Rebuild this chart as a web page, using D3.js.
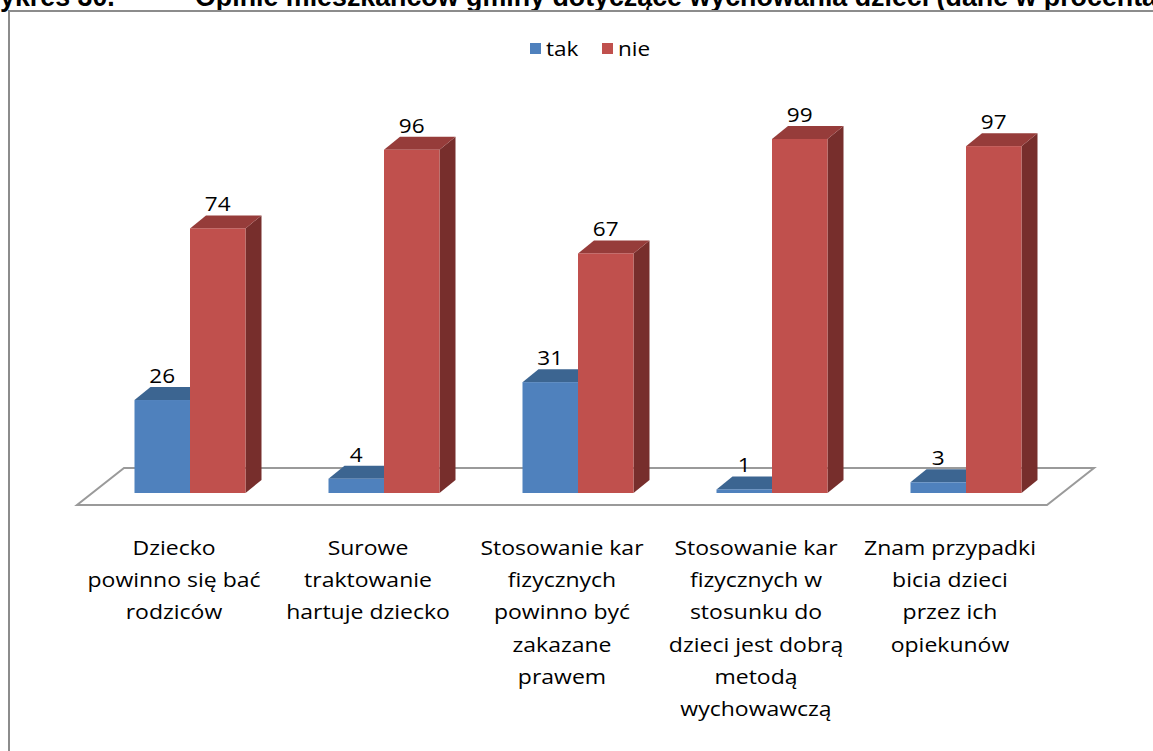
<!DOCTYPE html>
<html lang="pl">
<head>
<meta charset="UTF-8">
<title>Wykres 30</title>
<script src="https://d3js.org/d3.v7.min.js"></script>
<style>
  body { margin: 0; background: #fff; }
  svg { display: block; }
</style>
</head>
<body>
<div id="chart"></div>
<script>

// dane
const categories = [
    ['Dziecko', 'powinno się bać', 'rodziców'],
    ['Surowe', 'traktowanie', 'hartuje dziecko'],
    ['Stosowanie kar', 'fizycznych', 'powinno być', 'zakazane', 'prawem'],
    ['Stosowanie kar', 'fizycznych w', 'stosunku do', 'dzieci jest dobrą', 'metodą', 'wychowawczą'],
    ['Znam przypadki', 'bicia dzieci', 'przez ich', 'opiekunów']
]
const series = ['tak', 'nie']
const tak = [26, 4, 31, 1, 3]
const nie = [74, 96, 67, 99, 97]

const W = 1153, H = 751
const labelFont = '"Open Sans", "Noto Sans", sans-serif'
const titleFont = '"Liberation Sans", Arial, sans-serif'
const stretch = 1.15   // tekst w oryginale jest szerszy (Calibri)

let svg = d3.select('#chart')
    .append('svg')
    .attr('width', W)
    .attr('height', H)

// tytul (uciety u gory jak w oryginale) i ramka
let t1 = svg.append('text')
   .attr('y', 6)
   .attr('font-family', titleFont)
   .attr('font-weight', 'bold')
   .attr('font-size', 26.8)
   .text('Wykres 30.')
let wW = t1.node().getSubStringLength(0, 1)
t1.attr('x', -wW)

svg.append('text')
   .attr('x', 195).attr('y', 6)
   .attr('font-family', titleFont)
   .attr('font-weight', 'bold')
   .attr('font-size', 26.8)
   .text('Opinie mieszkańców gminy dotyczące wychowania dzieci (dane w procentach)')

svg.append('rect')
   .attr('x', 9).attr('y', 11)
   .attr('width', W + 20).attr('height', H + 20)
   .attr('fill', 'none')
   .attr('stroke', '#8c8c8c')
   .attr('stroke-width', 2)

// skale
let x = d3.scaleBand()
    .domain(d3.range(categories.length))
    .range([77, 1047])

let xs = d3.scaleBand()
    .domain(series)
    .range([-55.5, 55.5])

let y = d3.scaleLinear()
    .domain([0, 100])
    .range([0, 357.6])

const floorFront = 505, floorBack = 468
const floorDx = 47
const base = 493, offX = 16          // podstawa slupkow wewnatrz podlogi
const dX = 16, dY = 13               // glebokosc slupka

// podloga
svg.append('polygon')
   .attr('points', [
       [x.range()[0], floorFront],
       [x.range()[1], floorFront],
       [x.range()[1] + floorDx, floorBack],
       [x.range()[0] + floorDx, floorBack]
   ].map(p => p.join(',')).join(' '))
   .attr('fill', 'none')
   .attr('stroke', '#9a9a9a')
   .attr('stroke-width', 2)

let colors = {
    tak: { front: '#4F81BD', top: '#3C6591', side: '#2E4D73' },
    nie: { front: '#C0504D', top: '#963C3A', side: '#772E2C' }
}

let bars = []
categories.forEach(function(c, i){
    bars.push({ i: i, s: 'tak', v: tak[i] })
    bars.push({ i: i, s: 'nie', v: nie[i] })
})

let g = svg.append('g')

bars.forEach(function(d){
    let x0 = x(d.i) + x.bandwidth() / 2 + offX + xs(d.s)
    let x1 = x0 + xs.bandwidth()
    let yt = base - y(d.v)
    let col = colors[d.s]

    // bok
    g.append('polygon')
     .attr('points', [[x1, base], [x1, yt], [x1 + dX, yt - dY], [x1 + dX, base - dY]].map(p => p.join(',')).join(' '))
     .attr('fill', col.side)
    // gora
    g.append('polygon')
     .attr('points', [[x0, yt], [x1, yt], [x1 + dX, yt - dY], [x0 + dX, yt - dY]].map(p => p.join(',')).join(' '))
     .attr('fill', col.top)
    // przod
    g.append('rect')
     .attr('x', x0).attr('y', yt)
     .attr('width', x1 - x0).attr('height', base - yt)
     .attr('fill', col.front)

    g.append('text')
     .attr('transform', `translate(${(x0 + x1) / 2}, ${yt - 17}) scale(1.1, 1)`)
     .attr('text-anchor', 'middle')
     .attr('font-family', labelFont)
     .attr('font-size', 20.5)
     .attr('fill', '#000')
     .text(d.v)
})

// etykiety kategorii
categories.forEach(function(lines, i){
    let t = svg.append('text')
       .attr('transform', `translate(${x(i) + x.bandwidth() / 2}, 0) scale(${stretch}, 1)`)
       .attr('text-anchor', 'middle')
       .attr('font-family', labelFont)
       .attr('font-size', 20)
       .attr('fill', '#000')
    lines.forEach(function(l, j){
        t.append('tspan')
         .attr('x', 0)
         .attr('y', 555 + j * 32.2)
         .text(l)
    })
})

// legenda
let leg = svg.append('g')
let legX = [530, 602]
series.forEach(function(s, k){
    leg.append('rect')
       .attr('x', legX[k]).attr('y', 43)
       .attr('width', 11).attr('height', 11)
       .attr('fill', colors[s].front)
    leg.append('text')
       .attr('transform', `translate(${legX[k] + 16}, 56) scale(1.1, 1)`)
       .attr('font-family', labelFont)
       .attr('font-size', 20.5)
       .text(s)
})

</script>
</body>
</html>
